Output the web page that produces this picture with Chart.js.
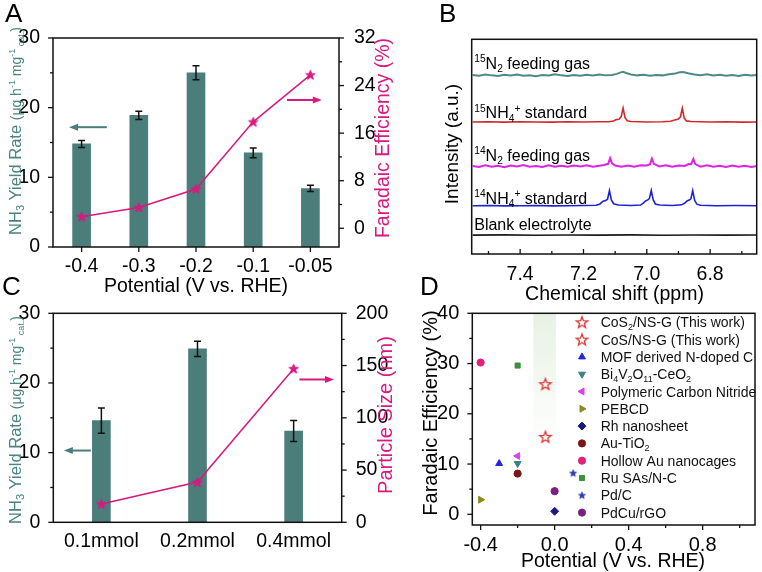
<!DOCTYPE html>
<html>
<head>
<meta charset="utf-8">
<script src="https://cdn.jsdelivr.net/npm/chart.js@4.4.0/dist/chart.umd.min.js"></script>
<style>
  body { margin: 0; background: #fff; width: 762px; height: 572px; position: relative; overflow: hidden;
         font-family: "Liberation Sans", Arial, sans-serif; }
  canvas { position: absolute; }
  .panel { position: absolute; font-size: 26px; line-height: 26px; color: #000; }
</style>
</head>
<body>
<canvas id="chartA" width="400" height="300" style="left:0;top:0"></canvas>
<canvas id="chartC" width="400" height="282" style="left:0;top:290px"></canvas>
<canvas id="chartB" width="362" height="305" style="left:400px;top:0"></canvas>
<canvas id="chartD" width="362" height="282" style="left:400px;top:290px"></canvas>
<div class="panel" style="left:5px;top:0">A</div>
<div class="panel" style="left:439px;top:0">B</div>
<div class="panel" style="left:2px;top:273px">C</div>
<div class="panel" style="left:420px;top:273px">D</div>
<script>
// ---- panel A: yield rate / faradaic efficiency vs potential
const potentialLabels = ['-0.4', '-0.3', '-0.2', '-0.1', '-0.05'];
const yieldRateA = [14.8, 18.9, 25.0, 13.5, 8.4];
const yieldErrorA = [0.5, 0.6, 1.0, 0.7, 0.45];
const faradaicA = [1.95, 3.5, 6.6, 17.9, 25.8];

// ---- panel C: yield rate / particle size vs precursor amount
const precursorLabels = ['0.1mmol', '0.2mmol', '0.4mmol'];
const yieldRateC = [14.6, 24.9, 13.1];
const yieldErrorC = [1.8, 1.1, 1.5];
const particleSizeC = [17.5, 38.5, 147];

// ---- panel B: 1H NMR spectra, [ppm, intensity]
const spec15N2 = [[7.55,83.4],[7.53,83.0],[7.51,83.6],[7.49,83.2],[7.47,82.9],[7.45,83.5],[7.43,83.1],[7.41,83.6],
  [7.39,83.0],[7.37,83.3],[7.35,82.8],[7.33,83.4],[7.31,83.1],[7.29,83.7],[7.27,83.2],[7.25,82.9],[7.23,83.4],
  [7.21,83.0],[7.19,83.5],[7.17,83.1],[7.15,83.6],[7.13,83.2],[7.11,83.4],[7.095,83.9],[7.082,84.6],[7.075,84.9],
  [7.065,84.3],[7.05,83.6],[7.03,83.2],[7.01,83.5],[6.99,83.0],[6.97,83.4],[6.95,83.2],[6.93,83.7],[6.91,84.1],
  [6.895,84.7],[6.885,84.8],[6.87,84.2],[6.85,83.6],[6.83,83.3],[6.81,83.7],[6.79,83.1],[6.77,83.5],[6.75,83.0],
  [6.73,83.4],[6.71,82.9],[6.69,83.5],[6.67,83.1],[6.65,83.4]];
const spec15NH4 = [[7.55,61.5],[7.50,61.6],[7.45,61.4],[7.40,61.6],[7.35,61.5],[7.30,61.4],[7.25,61.6],[7.20,61.5],
  [7.15,61.6],[7.12,61.6],[7.105,61.9],[7.097,62.6],[7.088,62.8],[7.081,64.0],[7.075,68.0],[7.069,63.6],[7.062,62.0],
  [7.05,61.7],[7.00,61.5],[6.95,61.6],[6.925,61.8],[6.912,62.4],[6.902,62.7],[6.894,63.8],[6.888,67.9],[6.882,63.4],
  [6.875,62.0],[6.86,61.7],[6.80,61.5],[6.75,61.6],[6.70,61.4],[6.65,61.5]];
const spec14N2 = [[7.55,41.0],[7.53,40.5],[7.51,41.3],[7.49,40.7],[7.47,41.1],[7.45,40.4],[7.43,41.2],[7.41,40.8],
  [7.39,41.4],[7.37,40.6],[7.35,41.0],[7.33,40.5],[7.31,41.3],[7.29,40.7],[7.27,41.1],[7.25,40.6],[7.23,41.2],
  [7.21,40.8],[7.19,41.3],[7.17,40.6],[7.15,41.1],[7.135,41.5],[7.122,42.0],[7.116,44.6],[7.11,42.2],[7.10,41.2],
  [7.08,40.6],[7.06,41.2],[7.04,40.7],[7.02,41.3],[7.00,41.2],[6.99,41.8],[6.984,44.4],[6.978,42.0],[6.96,40.8],
  [6.94,41.3],[6.92,40.6],[6.90,41.2],[6.88,41.0],[6.868,41.9],[6.86,41.8],[6.853,44.3],[6.847,41.9],[6.83,40.7],
  [6.81,41.3],[6.79,40.6],[6.77,41.1],[6.75,40.5],[6.73,41.2],[6.71,40.7],[6.69,41.1],[6.67,40.5],[6.65,41.0]];
const spec14NH4 = [[7.55,22.5],[7.50,22.6],[7.45,22.4],[7.40,22.5],[7.35,22.6],[7.30,22.4],[7.25,22.5],[7.20,22.6],
  [7.16,22.7],[7.148,23.3],[7.138,24.6],[7.13,24.9],[7.124,25.5],[7.118,29.5],[7.112,25.2],[7.105,23.4],[7.09,22.8],
  [7.05,22.6],[7.02,22.8],[7.012,23.6],[7.004,24.7],[6.997,25.2],[6.992,25.8],[6.986,29.6],[6.98,25.3],[6.973,23.3],
  [6.96,22.8],[6.92,22.6],[6.89,22.9],[6.881,23.6],[6.873,24.7],[6.866,25.1],[6.861,25.7],[6.855,29.5],[6.849,25.0],
  [6.842,23.2],[6.83,22.7],[6.78,22.5],[6.72,22.6],[6.65,22.5]];
const specBlank = [[7.55,8.8],[7.45,8.9],[7.35,8.75],[7.25,8.85],[7.15,8.8],[7.05,8.9],[6.95,8.75],[6.85,8.85],
  [6.75,8.8],[6.65,8.85]];
const specLabels = ['^{15}N_{2} feeding gas', '^{15}NH_{4}^{+} standard', '^{14}N_{2} feeding gas',
  '^{14}NH_{4}^{+} standard', 'Blank electrolyte'];

// ---- panel D: comparison with reported catalysts
const refNames = ['CoS_{2}/NS-G (This work)', 'CoS/NS-G (This work)', 'MOF derived N-doped C',
  'Bi_{4}V_{2}O_{11}-CeO_{2}', 'Polymeric Carbon Nitride', 'PEBCD', 'Rh nanosheet', 'Au-TiO_{2}',
  'Hollow Au nanocages', 'Ru SAs/N-C', 'Pd/C', 'PdCu/rGO'];
const refPotential = [-0.05, -0.05, -0.3, -0.2, -0.2, -0.4, 0.0, -0.2, -0.4, -0.2, 0.1, 0.0];
const refFaradaic = [25.9, 15.4, 10.1, 10.1, 11.6, 2.9, 0.6, 8.1, 30.2, 29.6, 8.2, 4.6];

// ---- ticks
const yieldTicks = [0, 10, 20, 30];
const yieldMinor = [5, 15, 25];
const feTicksA = [0, 8, 16, 24, 32];
const feMinorA = [4, 12, 20, 28];
const sizeTicks = [0, 50, 100, 150, 200];
const sizeMinor = [25, 75, 125, 175];
const shiftTicks = [7.4, 7.2, 7.0, 6.8];
const shiftMinor = [7.5, 7.3, 7.1, 6.9, 6.7];
const potTicksD = [-0.4, 0, 0.4, 0.8];
const potMinorD = [-0.2, 0.2, 0.6, 1.0];
const feTicksD = [0, 10, 20, 30, 40];
const feMinorD = [5, 15, 25, 35];

const FONT = '"Liberation Sans", Arial, sans-serif';
const TEAL = '#4b7d7a';
const TEAL_TEXT = '#4a8582';
const PINK = '#d8197f';

Chart.defaults.font.family = FONT;
Chart.defaults.color = '#000';

// text with _{sub} and ^{sup}, or an explicit list of [text, size, dy]
function richParts(str, size) {
  if (Array.isArray(str)) return str.map(p => ({ t: p[0], s: p[1], dy: p[2] || 0 }));
  const out = [];
  const re = /([_^])\{([^}]*)\}|([^_^]+)/g;
  let m;
  while ((m = re.exec(str))) {
    if (m[3]) out.push({ t: m[3], s: size, dy: 0 });
    else out.push({ t: m[2], s: size * 0.64, dy: m[1] === '_' ? size * 0.2 : -size * 0.42 });
  }
  return out;
}

function drawRich(ctx, str, x, y, size, color, o = {}) {
  const parts = richParts(str, size);
  let w = 0;
  parts.forEach(p => { ctx.font = p.s + 'px ' + FONT; p.w = ctx.measureText(p.t).width; w += p.w; });
  ctx.save();
  ctx.translate(x, y);
  if (o.rot) ctx.rotate(o.rot);
  ctx.fillStyle = color;
  ctx.textBaseline = 'alphabetic';
  ctx.textAlign = 'left';
  let cx = o.align === 'left' ? 0 : -w / 2;
  const base = o.middle ? size * 0.35 : 0;
  parts.forEach(p => {
    ctx.font = p.s + 'px ' + FONT;
    ctx.fillText(p.t, cx, base + p.dy);
    cx += p.w;
  });
  ctx.restore();
}

function starImage(r, fill, stroke, lw) {
  const c = document.createElement('canvas');
  const s = Math.ceil(2 * r + lw + 2);
  c.width = c.height = s;
  const g = c.getContext('2d');
  g.beginPath();
  for (let k = 0; k < 10; k++) {
    const rr = k % 2 ? r * 0.42 : r;
    const a = -Math.PI / 2 + k * Math.PI / 5;
    g.lineTo(s / 2 + rr * Math.cos(a), s / 2 + rr * Math.sin(a) + r * 0.08);
  }
  g.closePath();
  if (fill) { g.fillStyle = fill; g.fill(); }
  if (stroke) { g.strokeStyle = stroke; g.lineWidth = lw; g.stroke(); }
  return c;
}

const fixW = w => s => { s.width = w; };
const fixH = h => s => { s.height = h; };
const setTicks = list => s => { s.ticks = list.map(v => ({ value: v })); };

// box around the plot area
const frame = {
  id: 'frame',
  afterDraw(chart) {
    const { ctx, chartArea: a } = chart;
    ctx.save();
    ctx.strokeStyle = '#111';
    ctx.lineWidth = 1.5;
    ctx.strokeRect(a.left, a.top, a.right - a.left, a.bottom - a.top);
    ctx.restore();
  }
};

// major / minor tick marks, in or out
const marks = {
  id: 'marks',
  afterDraw(chart, args, opts) {
    const { ctx, chartArea: a } = chart;
    ctx.save();
    ctx.strokeStyle = '#111';
    ctx.lineWidth = 1.3;
    (opts.list || []).forEach(m => {
      const sc = chart.scales[m.axis];
      const dir = m.side === 'in' ? -1 : 1;
      const draw = (v, len) => {
        const p = sc.getPixelForValue(v);
        ctx.beginPath();
        if (sc.isHorizontal()) { ctx.moveTo(p, a.bottom); ctx.lineTo(p, a.bottom + dir * len); }
        else if (sc.position === 'left') { ctx.moveTo(a.left, p); ctx.lineTo(a.left - dir * len, p); }
        else { ctx.moveTo(a.right, p); ctx.lineTo(a.right + dir * len, p); }
        ctx.stroke();
      };
      (m.major || []).forEach(v => draw(v, 5));
      (m.minor || []).forEach(v => draw(v, 3));
    });
    ctx.restore();
  }
};

const errorBars = {
  id: 'errorBars',
  afterDatasetsDraw(chart, args, opts) {
    const ctx = chart.ctx;
    const meta = chart.getDatasetMeta(opts.dataset);
    const ys = chart.scales[meta.yAxisID];
    const vals = chart.data.datasets[opts.dataset].data;
    ctx.save();
    ctx.strokeStyle = '#111';
    ctx.lineWidth = 1.5;
    meta.data.forEach((bar, i) => {
      const top = ys.getPixelForValue(vals[i] + opts.errors[i]);
      const bot = ys.getPixelForValue(vals[i] - opts.errors[i]);
      ctx.beginPath();
      ctx.moveTo(bar.x, top); ctx.lineTo(bar.x, bot);
      ctx.moveTo(bar.x - 3.5, top); ctx.lineTo(bar.x + 3.5, top);
      ctx.moveTo(bar.x - 3.5, bot); ctx.lineTo(bar.x + 3.5, bot);
      ctx.stroke();
    });
    ctx.restore();
  }
};

// arrows pointing at the axis each series belongs to (data coordinates)
const arrows = {
  id: 'arrows',
  afterDraw(chart, args, opts) {
    const ctx = chart.ctx;
    (opts.list || []).forEach(ar => {
      const xs = chart.scales.x, ys = chart.scales.y;
      const x0 = xs.getPixelForValue(ar.from), x1 = xs.getPixelForValue(ar.to);
      const y = ys.getPixelForValue(ar.level);
      const d = Math.sign(x1 - x0);
      ctx.save();
      ctx.strokeStyle = ar.color; ctx.fillStyle = ar.color; ctx.lineWidth = 2;
      ctx.beginPath(); ctx.moveTo(x0, y); ctx.lineTo(x1 - d * 7, y); ctx.stroke();
      ctx.beginPath(); ctx.moveTo(x1, y); ctx.lineTo(x1 - d * 9, y - 3.5); ctx.lineTo(x1 - d * 9, y + 3.5);
      ctx.closePath(); ctx.fill();
      ctx.restore();
    });
  }
};

const titles = {
  id: 'titles',
  afterDraw(chart, args, opts) {
    (opts.list || []).forEach(t => {
      drawRich(chart.ctx, t.parts || t.text, t.x, t.y, t.size, t.color || '#000',
        { rot: t.rot ? -Math.PI / 2 : 0, middle: true });
    });
  }
};

const yieldTitle = [['NH', 16.5], ['3', 11, 3.5], [' Yield Rate ', 16.5], ['(μg h', 14], ['-1', 9, -6],
  [' mg', 14], ['-1', 9, -6], [' cat.', 9, 3], [')', 14]];

// ================= A =================
const starPink = starImage(5, PINK, PINK, 1);

new Chart(document.getElementById('chartA'), {
  type: 'bar',
  data: {
    labels: potentialLabels,
    datasets: [
      { type: 'line', data: faradaicA, yAxisID: 'y2', borderColor: PINK, borderWidth: 1.5,
        pointStyle: starPink, pointRadius: 5, order: 0 },
      { data: yieldRateA, yAxisID: 'y', backgroundColor: TEAL, barThickness: 18, order: 1 }
    ]
  },
  options: {
    responsive: false, animation: false,
    layout: { padding: { top: 38, left: 0, right: 0, bottom: 0 } },
    plugins: {
      legend: { display: false }, tooltip: { enabled: false },
      errorBars: { dataset: 1, errors: yieldErrorA },
      marks: { list: [
        { axis: 'x', major: [0, 1, 2, 3, 4] },
        { axis: 'y', major: yieldTicks, minor: yieldMinor },
        { axis: 'y2', major: feTicksA, minor: feMinorA }
      ] },
      arrows: { list: [
        { from: 0.44, to: -0.22, level: 17.2, color: TEAL },
        { from: 3.59, to: 4.2, level: 21.1, color: PINK }
      ] },
      titles: { list: [
        { text: 'Potential (V vs. RHE)', x: 196, y: 285, size: 19.5 },
        { parts: yieldTitle, x: 15, y: 131, size: 16.5, color: TEAL_TEXT, rot: true },
        { text: 'Faradaic Efficiency (%)', x: 382, y: 138, size: 19.5, color: PINK, rot: true }
      ] }
    },
    scales: {
      x: { grid: { display: false }, border: { display: false },
           ticks: { font: { size: 19.5 }, padding: 0, maxRotation: 0, autoSkip: false }, afterFit: fixH(53) },
      y: { position: 'left', min: 0, max: 30, grid: { display: false }, border: { display: false },
           ticks: { font: { size: 19.5 }, padding: 5 }, afterBuildTicks: setTicks(yieldTicks), afterFit: fixW(53) },
      y2: { position: 'right', min: -3.15, max: 32, grid: { display: false }, border: { display: false },
            ticks: { font: { size: 19.5 }, padding: 7 }, afterBuildTicks: setTicks(feTicksA), afterFit: fixW(61) }
    }
  },
  plugins: [frame, marks, errorBars, arrows, titles]
});

// ================= C =================
new Chart(document.getElementById('chartC'), {
  type: 'bar',
  data: {
    labels: precursorLabels,
    datasets: [
      { type: 'line', data: particleSizeC, yAxisID: 'y2', borderColor: PINK, borderWidth: 1.5,
        pointStyle: starPink, pointRadius: 5, order: 0 },
      { data: yieldRateC, yAxisID: 'y', backgroundColor: TEAL, barThickness: 18, order: 1 }
    ]
  },
  options: {
    responsive: false, animation: false,
    layout: { padding: { top: 23.3, left: 0, right: 0, bottom: 0 } },
    plugins: {
      legend: { display: false }, tooltip: { enabled: false },
      errorBars: { dataset: 1, errors: yieldErrorC },
      marks: { list: [
        { axis: 'y', major: yieldTicks, minor: yieldMinor },
        { axis: 'y2', major: sizeTicks, minor: sizeMinor }
      ] },
      arrows: { list: [
        { from: -0.11, to: -0.39, level: 10.3, color: TEAL },
        { from: 2.06, to: 2.42, level: 20.5, color: PINK }
      ] },
      titles: { list: [
        { parts: yieldTitle, x: 15, y: 130, size: 16.5, color: TEAL_TEXT, rot: true },
        { text: 'Particle Size (nm)', x: 385, y: 125, size: 20, color: PINK, rot: true }
      ] }
    },
    scales: {
      x: { grid: { display: false }, border: { display: false },
           ticks: { font: { size: 19.5 }, padding: 0, maxRotation: 0, autoSkip: false }, afterFit: fixH(49.7) },
      y: { position: 'left', min: 0, max: 30, grid: { display: false }, border: { display: false },
           ticks: { font: { size: 19.5 }, padding: 5 }, afterBuildTicks: setTicks(yieldTicks), afterFit: fixW(53.3) },
      y2: { position: 'right', min: 0, max: 200, grid: { display: false }, border: { display: false },
            ticks: { font: { size: 19.5 }, padding: 6 }, afterBuildTicks: setTicks(sizeTicks), afterFit: fixW(58.3) }
    }
  },
  plugins: [frame, marks, errorBars, arrows, titles]
});

// ================= B =================
const specLabelPlugin = {
  id: 'specLabels',
  afterDraw(chart, args, opts) {
    const xs = chart.scales.x, ys = chart.scales.y;
    specLabels.forEach((txt, i) => {
      drawRich(chart.ctx, txt, xs.getPixelForValue(opts.at), ys.getPixelForValue(opts.levels[i]), 16, '#000',
        { align: 'left' });
    });
  }
};

new Chart(document.getElementById('chartB'), {
  type: 'line',
  data: {
    datasets: [
      { data: specBlank, borderColor: '#1a1a1a', borderWidth: 1.6 },
      { data: spec14NH4, borderColor: '#1f22d2', borderWidth: 1.6 },
      { data: spec14N2, borderColor: '#de22e6', borderWidth: 2 },
      { data: spec15NH4, borderColor: '#d42828', borderWidth: 1.6 },
      { data: spec15N2, borderColor: '#4d8a86', borderWidth: 2 }
    ]
  },
  options: {
    responsive: false, animation: false,
    elements: { point: { radius: 0 }, line: { tension: 0 } },
    layout: { padding: { top: 39.3, left: 71.7, right: 5.3, bottom: 0 } },
    plugins: {
      legend: { display: false }, tooltip: { enabled: false },
      marks: { list: [{ axis: 'x', major: shiftTicks, minor: shiftMinor, side: 'in' }] },
      specLabels: { at: 7.545, levels: [86.2, 63.2, 43.3, 23.3, 11.2] },
      titles: { list: [
        { text: 'Intensity (a.u.)', x: 51.7, y: 144, size: 19, rot: true },
        { text: 'Chemical shift (ppm)', x: 214.5, y: 293, size: 19.5 }
      ] }
    },
    scales: {
      x: { type: 'linear', reverse: true, min: 6.653, max: 7.553, grid: { display: false }, border: { display: false },
           ticks: { font: { size: 19.5 }, padding: 1, callback: v => v.toFixed(1) },
           afterBuildTicks: setTicks(shiftTicks), afterFit: fixH(51) },
      y: { display: false, min: 0, max: 100 }
    }
  },
  plugins: [frame, marks, specLabelPlugin, titles]
});

// ================= D =================
const refStyles = [
  { pointStyle: starImage(6, null, '#e03434', 1.3), color: '#e03434', radius: 6 },
  { pointStyle: starImage(6, null, '#e03434', 1.3), color: '#e03434', radius: 6 },
  { pointStyle: 'triangle', color: '#2424e0', radius: 4 },
  { pointStyle: 'triangle', rotation: 180, color: '#3d7f86', radius: 4 },
  { pointStyle: 'triangle', rotation: -90, color: '#dd3ff0', radius: 4 },
  { pointStyle: 'triangle', rotation: 90, color: '#8c8c1e', radius: 4 },
  { pointStyle: 'rectRot', color: '#1a1a80', radius: 4 },
  { pointStyle: 'circle', color: '#7a1616', radius: 3.6 },
  { pointStyle: 'circle', color: '#e0207a', radius: 3.6 },
  { pointStyle: 'rect', color: '#3f8f3f', radius: 3.6 },
  { pointStyle: starImage(3.6, '#2a3aa8', '#2a3aa8', 0.8), color: '#2a3aa8', radius: 4 },
  { pointStyle: 'circle', color: '#7a2080', radius: 3.6 }
];

const band = {
  id: 'band',
  beforeDatasetsDraw(chart, args, opts) {
    const { ctx, chartArea: a, scales: { x, y } } = chart;
    const x0 = x.getPixelForValue(opts.from), x1 = x.getPixelForValue(opts.to);
    const yEnd = y.getPixelForValue(opts.fadeTo);
    const g = ctx.createLinearGradient(0, a.top, 0, yEnd);
    g.addColorStop(0, 'rgba(228,238,222,0.85)');
    g.addColorStop(1, 'rgba(228,238,222,0)');
    ctx.save();
    ctx.fillStyle = g;
    ctx.fillRect(x0, a.top, x1 - x0, yEnd - a.top);
    ctx.restore();
  }
};

const legendD = {
  id: 'legendD',
  afterDraw(chart, args, opts) {
    const ctx = chart.ctx;
    chart.data.datasets.forEach((ds, i) => {
      const y = opts.top + i * opts.step;
      ctx.save();
      ctx.fillStyle = ds.backgroundColor;
      ctx.strokeStyle = ds.borderColor;
      ctx.lineWidth = 1;
      Chart.helpers.drawPoint(ctx, { pointStyle: ds.pointStyle, rotation: ds.rotation || 0,
        radius: ds.pointRadius, borderWidth: 1 }, opts.symbolX, y);
      ctx.restore();
      drawRich(ctx, refNames[i], opts.textX, y + 5, 14, '#111', { align: 'left' });
    });
  }
};

new Chart(document.getElementById('chartD'), {
  type: 'scatter',
  data: {
    datasets: refNames.map((name, i) => ({
      label: name,
      data: [{ x: refPotential[i], y: refFaradaic[i] }],
      pointStyle: refStyles[i].pointStyle,
      rotation: refStyles[i].rotation || 0,
      pointRadius: refStyles[i].radius,
      backgroundColor: refStyles[i].color,
      borderColor: refStyles[i].color,
      borderWidth: 1
    }))
  },
  options: {
    responsive: false, animation: false,
    layout: { padding: { top: 23.3, left: 0, right: 3.6, bottom: 0 } },
    plugins: {
      legend: { display: false }, tooltip: { enabled: false },
      band: { from: -0.115, to: 0.008, fadeTo: 14 },
      legendD: { symbolX: 182, textX: 200.7, top: 32.3, step: 17.3 },
      marks: { list: [
        { axis: 'x', major: potTicksD, minor: potMinorD },
        { axis: 'y', major: feTicksD, minor: feMinorD }
      ] },
      titles: { list: [
        { text: 'Faradaic Efficiency (%)', x: 30, y: 123, size: 20, rot: true },
        { text: 'Potential (V vs. RHE)', x: 213, y: 270, size: 19.5 }
      ] }
    },
    scales: {
      x: { type: 'linear', min: -0.445, max: 1.083, grid: { display: false }, border: { display: false },
           ticks: { font: { size: 20 }, padding: 0, callback: v => v.toFixed(1) },
           afterBuildTicks: setTicks(potTicksD), afterFit: fixH(47) },
      y: { min: -2.13, max: 40, grid: { display: false }, border: { display: false },
           ticks: { font: { size: 20 }, padding: 5 }, afterBuildTicks: setTicks(feTicksD), afterFit: fixW(72.3) }
    }
  },
  plugins: [band, frame, marks, legendD, titles]
});
</script>
</body>
</html>
